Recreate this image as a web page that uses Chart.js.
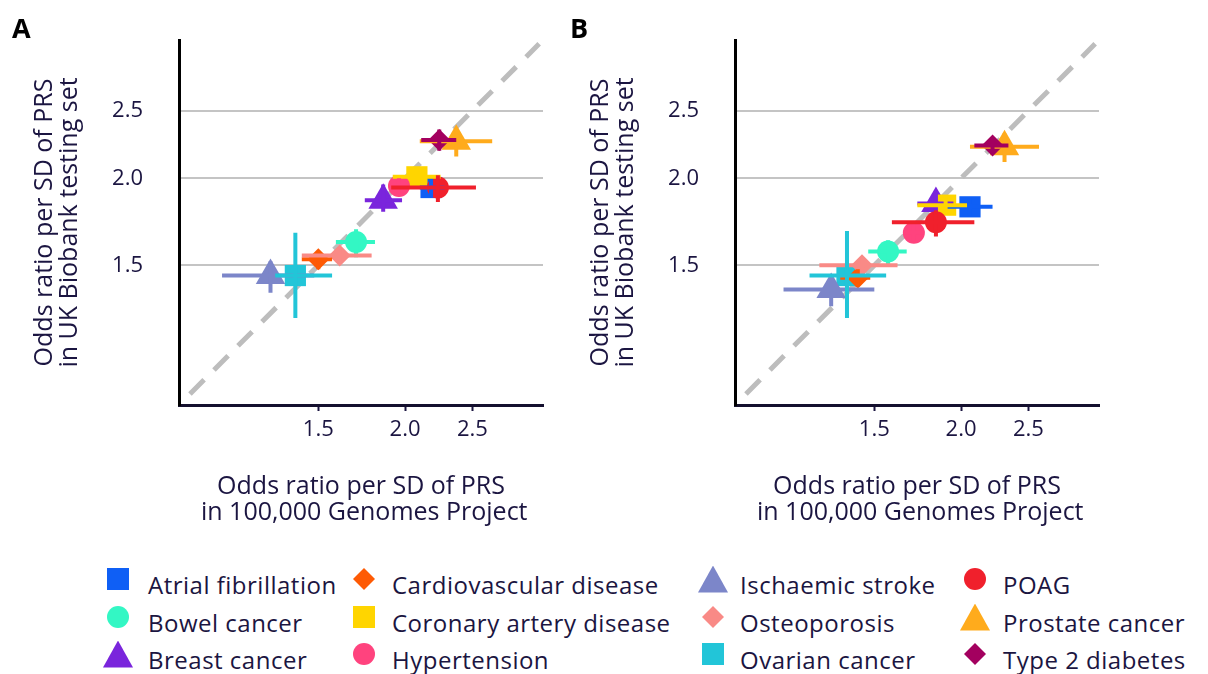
<!DOCTYPE html>
<html>
<head>
<meta charset="utf-8">
<script src="https://cdn.jsdelivr.net/npm/chart.js@4.4.1/dist/chart.umd.min.js"></script>
<style>
  body { margin: 0; background: #fff; font-family: 'Open Sans', sans-serif; color: #1b1541; }
  #wrap { position: relative; width: 1208px; height: 674px; overflow: hidden; }
  canvas { position: absolute; top: 0; }
  .panel { position: absolute; top: 9px; font-weight: bold; font-size: 27px; color: #000; }
  .item { position: absolute; font-size: 24px; line-height: 28px; white-space: nowrap; letter-spacing: 0.5px; }
  .mk { position: absolute; }
</style>
</head>
<body>
<div id="wrap">
  <canvas id="chartA" width="560" height="540" style="left:0"></canvas>
  <canvas id="chartB" width="560" height="540" style="left:556px"></canvas>
  <div class="panel" style="left:12px">A</div>
  <div class="panel" style="left:570px">B</div>
  <div id="legend"></div>
</div>
<script>
// data
var diseases = ['Atrial fibrillation', 'Bowel cancer', 'Breast cancer', 'Cardiovascular disease',
  'Coronary artery disease', 'Hypertension', 'Ischaemic stroke', 'Osteoporosis',
  'Ovarian cancer', 'POAG', 'Prostate cancer', 'Type 2 diabetes'];
var tickVals = [1.5, 2.0, 2.5];
var diagonal = [0.98, 3.12];

// panel A: odds ratio in 100,000 Genomes (x) vs UK Biobank (y)
var aX    = [2.18, 1.70, 1.86, 1.50, 2.08, 1.96, 1.28, 1.61, 1.39, 2.23, 2.37, 2.24];
var aXlo  = [2.10, 1.59, 1.75, 1.42, 1.92, 1.90, 1.09, 1.42, 1.30, 1.91, 2.10, 2.11];
var aXhi  = [2.28, 1.81, 1.98, 1.57, 2.25, 2.02, 1.48, 1.79, 1.57, 2.53, 2.67, 2.37];
var aY    = [1.94, 1.62, 1.86, 1.53, 2.01, 1.95, 1.45, 1.55, 1.45, 1.94, 2.26, 2.27];
var aYlo  = [1.88, 1.54, 1.79, 1.48, 1.96, 1.90, 1.37, 1.52, 1.26, 1.85, 2.15, 2.19];
var aYhi  = [2.00, 1.69, 1.96, 1.57, 2.06, 2.00, 1.52, 1.59, 1.67, 2.02, 2.36, 2.35];

// panel B
var bX    = [2.06, 1.57, 1.84, 1.42, 1.90, 1.71, 1.30, 1.44, 1.37, 1.84, 2.31, 2.22];
var bXlo  = [1.90, 1.47, 1.73, 1.34, 1.73, 1.65, 1.11, 1.25, 1.21, 1.59, 2.06, 2.09];
var bXhi  = [2.22, 1.67, 1.95, 1.48, 2.04, 1.77, 1.50, 1.62, 1.56, 2.09, 2.59, 2.34];
var bY    = [1.82, 1.57, 1.84, 1.44, 1.83, 1.67, 1.385, 1.50, 1.45, 1.73, 2.22, 2.23];
var bYlo  = [1.77, 1.50, 1.78, 1.40, 1.78, 1.62, 1.31, 1.46, 1.26, 1.65, 2.11, 2.17];
var bYhi  = [1.87, 1.63, 1.92, 1.48, 1.88, 1.72, 1.44, 1.54, 1.68, 1.80, 2.32, 2.29];

// styles
var colors = ['#0f5ff5', '#33f7c4', '#7a25dc', '#fe5a04', '#ffd500', '#ff437e',
  '#7c86c9', '#f98a86', '#22c5d8', '#f0202c', '#ffab1c', '#a3005f'];
var shapes = ['rect', 'circle', 'triangle', 'rectRot', 'rect', 'circle',
  'triangle', 'rectRot', 'rect', 'circle', 'triangle', 'rectRot'];
var radii = { rect: 15, circle: 11, triangle: 17, rectRot: 11 };
var textColor = '#1b1541';
var fontFamily = "'Open Sans', sans-serif";

// all error bars sit on top of the markers
var errorBars = {
  id: 'errorBars',
  afterDatasetsDraw: function(chart) {
    var xs = chart.scales.x, ys = chart.scales.y, ctx = chart.ctx;
    ctx.save();
    ctx.lineWidth = 4;
    chart.data.datasets.forEach(function(ds) {
      if (!ds.err) return;
      var px = xs.getPixelForValue(ds.data[0].x);
      var py = ys.getPixelForValue(ds.data[0].y);
      ctx.strokeStyle = ds.backgroundColor;
      ctx.beginPath();
      ctx.moveTo(xs.getPixelForValue(ds.err.xlo), py);
      ctx.lineTo(xs.getPixelForValue(ds.err.xhi), py);
      ctx.moveTo(px, ys.getPixelForValue(ds.err.ylo));
      ctx.lineTo(px, ys.getPixelForValue(ds.err.yhi));
      ctx.stroke();
    });
    ctx.restore();
  }
};

function setTicks(scale) {
  scale.ticks = tickVals.map(function(v) { return { value: v }; });
}

function makePanel(id, xv, xlo, xhi, yv, ylo, yhi) {
  var datasets = diseases.map(function(name, i) {
    return {
      label: name,
      data: [{ x: xv[i], y: yv[i] }],
      pointStyle: shapes[i],
      pointRadius: radii[shapes[i]],
      backgroundColor: colors[i],
      borderColor: colors[i],
      borderWidth: 0,
      order: name === 'Ovarian cancer' ? 50 : diseases.length - i,
      err: { xlo: xlo[i], xhi: xhi[i], ylo: ylo[i], yhi: yhi[i] }
    };
  });
  datasets.push({
    label: 'y = x',
    data: [{ x: diagonal[0], y: diagonal[0] }, { x: diagonal[1], y: diagonal[1] }],
    showLine: true,
    borderColor: '#bdbdbd',
    borderWidth: 5,
    borderDash: [20, 14],
    pointRadius: 0,
    order: 100
  });

  return new Chart(document.getElementById(id), {
    type: 'scatter',
    data: { datasets: datasets },
    plugins: [errorBars],
    options: {
      responsive: false,
      animation: false,
      devicePixelRatio: 1,
      layout: { padding: { top: 40, right: 15, left: 0, bottom: 0 } },
      plugins: { legend: { display: false }, tooltip: { enabled: false } },
      scales: {
        x: {
          type: 'logarithmic', min: 0.945, max: 3.16,
          afterBuildTicks: setTicks,
          afterFit: function(s) { s.height = 135; s.paddingLeft = 0; s.paddingRight = 0; },
          grid: { drawOnChartArea: false, drawTicks: true, tickLength: 6, tickWidth: 2, tickColor: textColor },
          border: { display: true, color: '#14102e', width: 3 },
          ticks: {
            autoSkip: false, maxRotation: 0, padding: 6, color: textColor,
            font: { family: fontFamily, size: 22 },
            callback: function(v) { return Number(v).toFixed(1); }
          },
          title: {
            display: true, color: textColor,
            text: ['Odds ratio per SD of PRS', ' in 100,000 Genomes Project'],
            font: { family: fontFamily, size: 25, lineHeight: 1.04 },
            padding: { bottom: 14 }
          }
        },
        y: {
          type: 'logarithmic', min: 0.945, max: 3.16,
          afterBuildTicks: setTicks,
          afterFit: function(s) { s.width = 179; s.paddingTop = 0; s.paddingBottom = 0; },
          grid: { color: '#c4c4c4', lineWidth: 2, drawTicks: false },
          border: { display: true, color: '#000', width: 3 },
          ticks: {
            padding: 36, color: textColor,
            font: { family: fontFamily, size: 22 },
            callback: function(v) { return Number(v).toFixed(1); }
          },
          title: {
            display: true, color: textColor,
            text: ['Odds ratio per SD of PRS', 'in UK Biobank testing set'],
            font: { family: fontFamily, size: 25, lineHeight: 1.0 },
            padding: { top: 32 }
          }
        }
      }
    }
  });
}

makePanel('chartA', aX, aXlo, aXhi, aY, aYlo, aYhi);
makePanel('chartB', bX, bXlo, bXhi, bY, bYlo, bYhi);

// legend, 4 columns x 3 rows
var colMarker = [118, 364, 713, 975];
var colText = [148, 392, 740, 1003];
var rowY = [586, 624, 661];
var legend = document.getElementById('legend');
diseases.forEach(function(name, i) {
  var col = Math.floor(i / 3), row = i % 3;
  var shape = shapes[i];
  var w = shape === 'triangle' ? 30 : 22;
  var h = shape === 'triangle' ? 27 : 22;
  var mk = document.createElement('div');
  mk.className = 'mk';
  mk.style.left = (colMarker[col] - w / 2) + 'px';
  mk.style.top = (rowY[row] - 7 - h / 2) + 'px';
  mk.style.width = w + 'px';
  mk.style.height = h + 'px';
  mk.style.background = colors[i];
  if (shape === 'circle') mk.style.borderRadius = '50%';
  if (shape === 'triangle') mk.style.clipPath = 'polygon(50% 0, 100% 100%, 0 100%)';
  if (shape === 'rectRot') mk.style.clipPath = 'polygon(50% 0, 100% 50%, 50% 100%, 0 50%)';
  legend.appendChild(mk);
  var t = document.createElement('div');
  t.className = 'item';
  t.style.left = colText[col] + 'px';
  t.style.top = (rowY[row] - 15) + 'px';
  t.textContent = name;
  legend.appendChild(t);
});
</script>
</body>
</html>
